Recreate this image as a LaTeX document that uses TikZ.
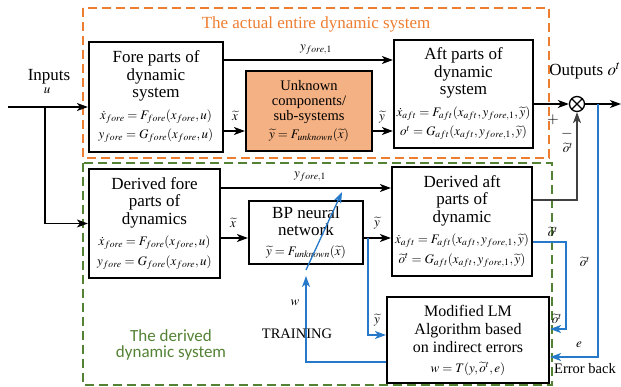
\documentclass[tikz,border=0pt]{standalone}
\usepackage{mathptmx}
\usepackage{fontspec}
\setmainfont{Liberation Serif}
\newfontfamily\calib{Carlito}
\usetikzlibrary{arrows.meta}
\definecolor{orgline}{RGB}{237,125,49}
\definecolor{orgfill}{RGB}{244,177,131}
\definecolor{grnline}{RGB}{84,130,53}
\definecolor{bluln}{RGB}{38,120,200}
\newcommand{\txs}{\fontsize{17}{17.5}\selectfont}
\newcommand{\eqs}{\fontsize{13}{18}\selectfont}
\tikzset{
  blk/.style={draw=black, line width=2.2pt, align=center, inner sep=1pt, font=\txs},
  dashbox/.style={line width=1.9pt, dash pattern=on 9pt off 5pt},
  arr/.style={-{Stealth[length=11pt,width=8pt,inset=3pt]}, line width=1.3pt},
  barr/.style={arr, draw=bluln},
  lbl/.style={inner sep=0pt, font=\eqs},
  ttl/.style={inner sep=0pt, font=\txs},
}
\begin{document}
\begin{tikzpicture}[x=1pt,y=-1pt]
\useasboundingbox (0,0) rectangle (621,387);
% dashed frames
\draw[dashbox, draw=orgline] (83,8) rectangle (549,158);
\draw[dashbox, draw=grnline] (83,163) rectangle (552,385);
\node[ttl, text=orgline] (t1) at (316,24) {The actual entire dynamic system};
\node[ttl, text=grnline, align=center, font=\calib\fontsize{17}{16.5}\selectfont] (t2) at (171,345) {The derived\\dynamic system};

% blocks
\node[blk, minimum width=134, minimum height=110] (fore) at (156,97)
  {Fore parts of\\ dynamic\\ system\\[4pt]
   {\eqs $\dot x_{fore}=F_{fore}(x_{fore},u)$}\\[2pt]
   {\eqs $y_{fore}=G_{fore}(x_{fore},u)$}};
\node[blk, fill=orgfill, minimum width=126, minimum height=80, font=\fontsize{14.5}{15}\selectfont] (unk) at (309,111)
  {Unknown\\ components/\\ sub-systems\\[3pt]
   {\eqs $\widetilde{y}=F_{unknown}(\widetilde{x})$}};
\node[blk, minimum width=139, minimum height=108] (aft) at (463.5,94)
  {Aft parts of\\ dynamic\\ system\\[4pt]
   {\eqs $\dot x_{aft}=F_{aft}(x_{aft},y_{fore,1},\widetilde{y})$}\\[2pt]
   {\eqs $o^t=G_{aft}(x_{aft},y_{fore,1},\widetilde{y})$}};
\node[blk, minimum width=131, minimum height=109] (dfore) at (154.5,223.5)
  {Derived fore\\ parts of\\ dynamics\\[4pt]
   {\eqs $\dot x_{fore}=F_{fore}(x_{fore},u)$}\\[2pt]
   {\eqs $y_{fore}=G_{fore}(x_{fore},u)$}};
\node[blk, minimum width=114, minimum height=63] (bp) at (306,232.5)
  {BP neural\\ network\\[2pt]
   {\eqs $\widetilde{y}=F_{unknown}(\widetilde{x})$}};
\node[blk, minimum width=140, minimum height=109] (daft) at (462,221.5)
  {Derived aft\\ parts of\\ dynamic\\[4pt]
   {\eqs $\dot x_{aft}=F_{aft}(x_{aft},y_{fore,1},\widetilde{y})$}\\[2pt]
   {\eqs $\widetilde{o}^t=G_{aft}(x_{aft},y_{fore,1},\widetilde{y})$}};
\node[blk, minimum width=162, minimum height=86, font=\fontsize{16}{18}\selectfont] (lm) at (468,340)
  {Modified LM\\ Algorithm based\\ on indirect errors\\[2pt]
   {\eqs $w=T(y,\widetilde{o}^t,e)$}};

% summation
\node[draw, circle, line width=1.3pt, minimum size=15pt, inner sep=0pt,
  path picture={\draw[line width=1.1pt] (path picture bounding box.north west) -- (path picture bounding box.south east)
  (path picture bounding box.north east) -- (path picture bounding box.south west);}] (sum) at (577,104) {};

% helper coordinates
\coordinate (in0) at (8,107);
\coordinate (br) at (45,107);
\coordinate (yA) at (0,60);
\coordinate (yB) at (0,131);
\coordinate (yC) at (0,188);
\coordinate (yD) at (0,238);
\coordinate (yE) at (0,200);
\coordinate (yF) at (0,242);
\coordinate (yG) at (0,335);
\coordinate (yH) at (0,362);
\coordinate (yI) at (0,329);
\coordinate (yJ) at (0,357);
\coordinate (outend) at (621,104);
\coordinate (ebx) at (598,104);
\coordinate (bpx) at (368,238);
\coordinate (trx) at (306,362);
\coordinate (oux) at (566,242);
\coordinate (wt) at (306,276);
\coordinate (d0) at (306,270);
\coordinate (d1) at (342,192);

% inputs
\draw[arr] (in0) -- (fore.west |- in0);
\draw[arr] (br) -- (br |- dfore.west) -- (dfore.west);
\node[ttl] (inl) at (49,77) {Inputs};
\node[lbl] (inu) at (47,91) {$u$};

% actual system connectors
\draw[arr] (fore.east |- yA) -- (aft.west |- yA);
\draw[arr] (fore.east |- yB) -- (unk.west |- yB);
\draw[arr] (unk.east |- yB) -- (aft.west |- yB);
\draw[arr] (aft.east |- sum) -- (sum.west);
\draw[arr] (sum.east) -- (outend);
\node[lbl] (l1) at (316,50) {$y_{fore,1}$};
\node[lbl] (l2) at (235,116) {$\widetilde{x}$};
\node[lbl] (l3) at (382,117) {$\widetilde{y}$};
\node[ttl] (l4) at (585,71) {Outputs $o^t$};
\node[lbl, font=\fontsize{15}{15}\selectfont] (l5) at (553,120) {$+$};
\node[lbl, font=\fontsize{15}{15}\selectfont] (l6) at (567,134) {$-$};
\node[lbl] (l7) at (568,148) {$\widetilde{o}^t$};

% derived system connectors
\draw[arr] (dfore.east |- yC) -- (daft.west |- yC);
\draw[arr] (dfore.east |- yD) -- (bp.west |- yD);
\draw[arr] (bp.east |- yD) -- (daft.west |- yD);
\draw[arr, draw=black!75] (daft.east |- yE) -| (sum.south);
\node[lbl] (l8) at (310,177) {$y_{fore,1}$};
\node[lbl] (l9) at (233,223) {$\widetilde{x}$};
\node[lbl] (l10) at (377,223) {$\widetilde{y}$};

% blue training connectors
\draw[barr] (bpx) -- (bpx |- yG) -- (lm.west |- yG);
\draw[barr] (lm.west |- yH) -- (trx) -- (wt);
\draw[barr] (d0) -- (d1);
\draw[barr] (daft.east |- yF) -- (oux) -- (oux |- yI) -- (lm.east |- yI);
\draw[barr] (ebx) -- (ebx |- yJ) -- (lm.east |- yJ);
\node[lbl] (l11) at (377,320) {$\widetilde{y}$};
\node[lbl] (l12) at (295,303) {$w$};
\node[ttl, font=\fontsize{14.5}{15}\selectfont] (l13) at (297,334) {TRAINING};
\node[lbl] (l14) at (553,232) {$\widetilde{o}^t$};
\node[lbl] (l15) at (585,262) {$\widetilde{o}^t$};
\node[lbl] (l16) at (557,319) {$\widetilde{o}^t$};
\node[lbl] (l17) at (579,345) {$e$};
\node[ttl, font=\fontsize{14.5}{15}\selectfont] (l18) at (585,369) {Error back};
\end{tikzpicture}
\end{document}
